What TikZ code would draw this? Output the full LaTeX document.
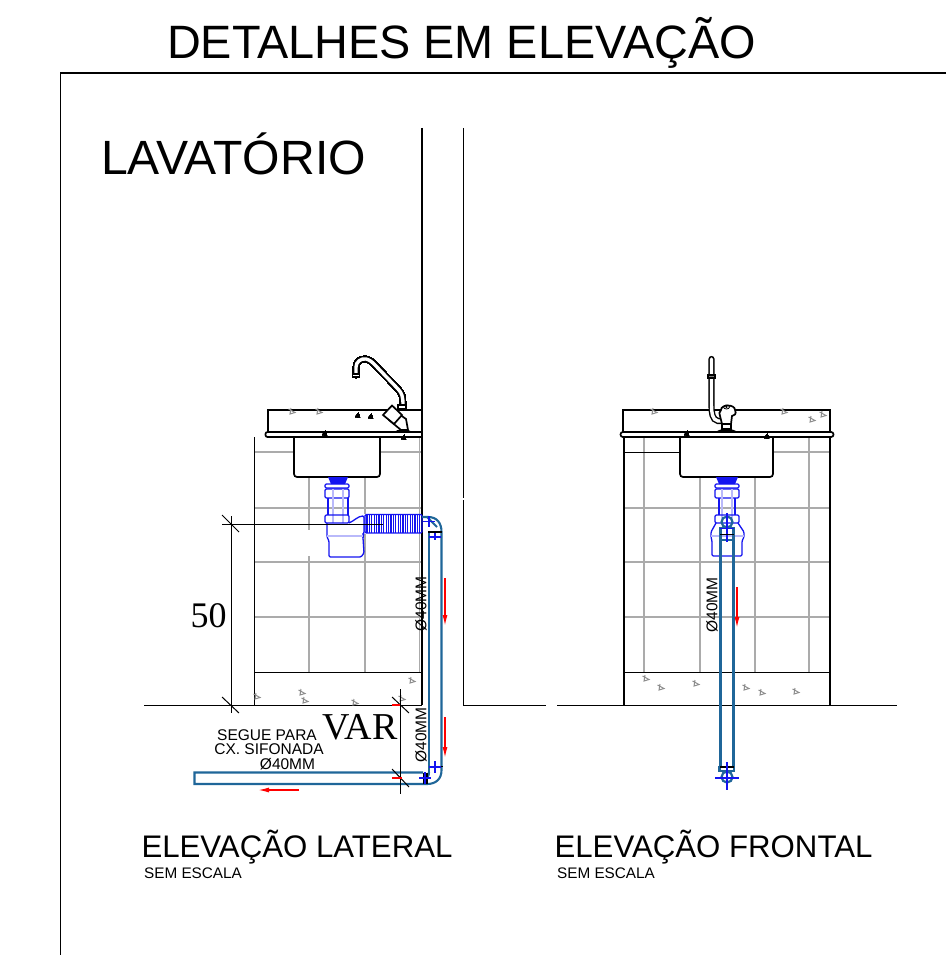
\documentclass[tikz,border=0pt]{standalone}
\usepackage{fontspec}
\setmainfont{Liberation Sans}
\newfontfamily\timesf{Liberation Serif}
\usetikzlibrary{arrows.meta}
\definecolor{pipeblue}{HTML}{1F6699}
\definecolor{sifblue}{HTML}{1414F0}
\definecolor{tilegray}{HTML}{ABABAB}
\definecolor{markgray}{HTML}{8C8C8C}
\newcommand{\trimark}[3][markgray]{\draw[#1,line width=1pt] (#2,#3) ++(-3.5,-3) -- ++(6.5,3.5) -- ++(-5,1.5) -- ++(1,-6);}
\newcommand{\blackmark}[2]{\fill[black] (#1,#2) ++(-3,2) -- ++(3.5,-4.5) -- ++(1.5,5) -- cycle;}
\tikzset{
  wall/.style={black,line width=1.3pt},
  thick line/.style={black,line width=1.7pt},
  tile/.style={tilegray,line width=1.4pt},
  pipe/.style={pipeblue,line width=2.1pt},
  sif/.style={sifblue,line width=1.3pt,rounded corners=1.2pt},
  redbit/.style={red,line width=1.4pt},
  redarrow/.style={red,line width=1.4pt,-{Latex[length=11pt,width=5pt]}},
  dimline/.style={black,line width=1pt},
  lbl/.style={inner sep=0pt,text=black,align=center},
  faucet/.style={black,line width=1.4pt,double=white,double distance=3.4pt,line cap=round}
}
\begin{document}
\begin{tikzpicture}[x=1pt,y=-1pt]
\useasboundingbox (0,0) rectangle (946,955);
\fill[white] (0,0) rectangle (946,955);
% frame
\draw[wall] (946,73) -- (60.5,73) -- (60.5,955);
\node[lbl,font=\fontsize{46.8}{47}\selectfont] (title) at (461.5,42.5) {DETALHES EM ELEVAÇÃO};
\node[lbl,font=\fontsize{48.1}{48}\selectfont] (lav) at (233.5,153.5) {LAVATÓRIO};
% tile grid lateral
\draw[tile] (309,477) -- (309,530) (309,556) -- (309,672);
\draw[tile] (365,477) -- (365,514) (365,534) -- (365,672);
\draw[tile,line width=1pt] (419,437) -- (419,672);
\draw[tile] (254,452) -- (294,452) (380,452) -- (422,452);
\draw[tile] (254,508) -- (422,508);
\draw[tile] (254,562) -- (422,562);
\draw[tile] (254,617) -- (422,617);
% tile grid front
\foreach \xx in {644,700,755,809} \draw[tile] (\xx,\ifnum\xx=700 477\else\ifnum\xx=755 477\else 437\fi\fi) -- (\xx,672);
\draw[tile] (773,452) -- (830,452);
\draw[tile] (624,508) -- (830,508);
\draw[tile] (624,562) -- (830,562);
\draw[tile] (624,617) -- (830,617);
% walls and floor
\draw[wall] (422,128) -- (422,705);
\draw[wall] (463.5,128) -- (463.5,498) (463.5,500) -- (463.5,705);
\draw[wall] (144,705.5) -- (422,705.5) (463,705.5) -- (546,705.5) (557,705.5) -- (897,705.5);
% cabinet lateral
\draw[thick line] (254.5,437) -- (254.5,705);
\draw[thick line] (254,672.5) -- (422,672.5);
\draw[thick line] (268,432) -- (268,410) -- (422,410);
\draw[thick line,rounded corners=2pt] (422,432) -- (265.5,432) -- (265.5,437) -- (422,437);
\draw[thick line,rounded corners=3pt] (294,437) -- (294,477) -- (380,477) -- (380,437);
% cabinet front
\draw[thick line] (624,437) -- (624,705) (830,437) -- (830,705);
\draw[thick line] (624,672.5) -- (830,672.5);
\draw[thick line] (623,432) -- (623,410) -- (830,410) -- (830,432);
\draw[thick line,rounded corners=2.4pt] (620.5,432) rectangle (833.5,437);
\draw[thick line,rounded corners=3pt] (680,437) -- (680,477) -- (773,477) -- (773,437);
\draw[thick line] (624,452.5) -- (680,452.5);
% marks
\foreach \a/\b in {292/412,319/412,302/693,305/701,412/681,257/697,402/699,355/703,
  654/412,784/412,812/420,823/415,646/679,661/688,696/684,746/688,762/693,796/692}
  \trimark{\a}{\b}
\foreach \a/\b in {358/415,371/416,325/433,404/437,687/433,767/436}
  \blackmark{\a}{\b}
% faucet lateral
\draw[faucet] (356,375) -- (356,367) .. controls (356,362) and (361,358) .. (366,359)
  .. controls (370,360) and (372,362) .. (375,365) -- (398,389) .. controls (402,393) and (403,397) .. (403,405);
\draw[thick line,fill=white] (352.5,374) rectangle (359.5,377);
\draw[thick line,fill=white] (398,405) rectangle (406,409);
\draw[thick line,fill=white] (392,409) -- (406,419) -- (408,430) -- (401,430) -- (389,420) -- cycle;
\draw[thick line,fill=white] (392,405.5) -- (383,415) -- (394,424) -- (402,415) -- cycle;
\fill[black] (394,432) .. controls (397,429) and (407,428) .. (412,432) -- cycle;
% faucet front
\draw[faucet] (711.5,359) -- (711.5,405) .. controls (711.5,412) and (712,420) .. (718,421) -- (722,421);
\draw[black,line width=1.2pt,fill=gray] (708,375) rectangle (715,378);
\draw[thick line,fill=white] (721,410) .. controls (721,404) and (735,404) .. (735,410) .. controls (737,414) and (734,416) .. (732,416)
  -- (731,424) -- (722,424) -- (720,416) .. controls (719,414) and (719,412) .. (721,410) -- cycle;
\draw[black,line width=.8pt] (726.5,407) ellipse (3 and 2);
\fill[black] (726.5,407) circle (1.1);
\fill[black] (716,432) .. controls (719,428) and (734,428) .. (737,432) -- cycle;
\draw[thick line,fill=white] (722,424) rectangle (731,429);
% siphon lateral
\begin{scope}[shift={(338,0)}]
\fill[sifblue] (-10,477) -- (10,477) -- (7,484) -- (-7,484) -- cycle;
\draw[sif] (-13,484) rectangle (11,488);
\draw[sif] (-13,489) rectangle (11,498);
\draw[sif] (-10,498) -- (-10,515) (10,498) -- (10,515);
\draw[sifblue!30,line width=1.2pt] (-5,489) -- (-5,523) (5,489) -- (5,523);
\draw[sif] (-13,515) rectangle (11,523);
\draw[sif] (-11,523) -- (-11,537) -- (-9,541) -- (-9,557) -- (23,557) -- (26,553) -- (25,538) -- (25,533);
\draw[sif] (11,523) .. controls (16,521) and (20,516) .. (26,516) -- (26,532) -- (25,538);
\draw[sifblue!30,line width=1.2pt] (-11,536) -- (25,536);
\end{scope}
\draw[sif] (365,514.5) rectangle (422,533);
\foreach \xx in {367,369.4,...,421} \draw[sifblue,line width=1.3pt] (\xx,514.5) -- (\xx,533);
% siphon front
\begin{scope}[shift={(727,0)}]
\fill[sifblue] (-11,477) -- (11,477) -- (8,484) -- (-8,484) -- cycle;
\draw[sif] (-12,484) rectangle (12,488);
\draw[sif] (-12,489) rectangle (12,498);
\draw[sif] (-8,498) -- (-8,515) (8,498) -- (8,515);
\draw[sifblue!30,line width=1.2pt] (-5,489) -- (-5,523) (5,489) -- (5,523);
\draw[sif] (-12,515) rectangle (12,523);
\draw[sif] (-11,523) -- (-16,532) -- (-16,537) -- (-15,541) -- (-15,556) -- (15,556) -- (15,541) -- (17,537) -- (17,532) -- (11,523);
\draw[sifblue!30,line width=1.2pt] (-16,536) -- (17,536);
\end{scope}
% pipes lateral
\draw[pipe] (422,517) -- (428,517) .. controls (437,517) and (441.5,523) .. (441.5,532) -- (441.5,770)
  .. controls (441.5,779) and (436,784) .. (427,784) -- (194.5,784) -- (194.5,772.5) -- (423,772.5);
\draw[pipe] (429,533) -- (429,772);
\draw[pipe] (429,772) .. controls (429,777) and (427,778) .. (423,778);
\draw[pipe] (427,517) -- (437,527);
\draw[black,line width=1.5pt] (428,532) -- (442,532) (424,772.5) -- (424,784) (427,772.5) -- (427,784) (429,766.5) -- (443,766.5);
\draw[sifblue,line width=1.5pt] (429,516) -- (429,527) (423,521.5) -- (435,521.5) (435,533) -- (435,540) (429,537) -- (441,537);
\draw[sifblue,line width=1.5pt] (435,761) -- (435,773) (429,767) -- (441,767) (419,778) -- (431,778) (425,772) -- (425,784);
% pipes front
\draw[pipe,line width=2.6pt] (720.5,536) -- (720.5,767) (733.5,536) -- (733.5,767);
\draw[pipe] (719.5,767) rectangle (734,771);
\draw[black,line width=1.5pt] (719.5,767) -- (734,767);
\draw[pipe,line width=2.2pt] (727,777) circle (5.5);
\draw[sifblue,line width=1.5pt] (727,762) -- (727,790) (715,778) -- (739,778);
\draw[pipe,line width=2.2pt] (727,522) circle (5.5);
\draw[pipe] (720.5,528) rectangle (733.5,540);
\draw[sifblue,line width=1.5pt] (727,513) -- (727,542);
\draw[black,line width=1.6pt] (720,534.5) -- (734,534.5);
\draw[sifblue,line width=1.4pt] (720,528.5) -- (734,528.5);
% dimensions
\draw[dimline] (231,516) -- (231,713);
\draw[dimline] (222,524) -- (383,524);
\draw[dimline] (222,515) -- (239,532) (222,697) -- (239,713);
\draw[dimline] (400,689) -- (400,794);
\draw[dimline] (392,697) -- (409,713) (392,769) -- (409,787);
% red
\draw[redbit] (392,705) -- (400,705) (392,778) -- (402,778);
\draw[redarrow] (445,578) -- (445,626);
\draw[redarrow] (445,717) -- (445,758);
\draw[redarrow] (737,587) -- (737,628);
\draw[redarrow] (299,790) -- (258,790);
% labels
\node[lbl,font=\timesf\fontsize{36}{36}\selectfont] (d50) at (208.5,616) {50};
\node[lbl,font=\timesf\fontsize{38}{38}\selectfont] (var) at (360,727) {VAR};
\node[lbl,font=\fontsize{15.5}{15.5}\selectfont] (s1) at (267,735) {SEGUE PARA};
\node[lbl,font=\fontsize{15.5}{15.5}\selectfont] (s2) at (269,749) {CX. SIFONADA};
\node[lbl,font=\fontsize{15.5}{15.5}\selectfont] (s3) at (287.5,764.5) {Ø40MM};
\node[lbl,rotate=90,font=\fontsize{15.5}{15.5}\selectfont] (r1) at (421,604) {Ø40MM};
\node[lbl,rotate=90,font=\fontsize{15.5}{15.5}\selectfont] (r2) at (421,735) {Ø40MM};
\node[lbl,rotate=90,font=\fontsize{15.5}{15.5}\selectfont] (r3) at (712,605) {Ø40MM};
\node[lbl,font=\fontsize{31.2}{31}\selectfont] (e1) at (297,847) {ELEVAÇÃO LATERAL};
\node[lbl,font=\fontsize{15.3}{15}\selectfont] (e1s) at (193,873) {SEM ESCALA};
\node[lbl,font=\fontsize{31.2}{31}\selectfont] (e2) at (713.5,847) {ELEVAÇÃO FRONTAL};
\node[lbl,font=\fontsize{15.3}{15}\selectfont] (e2s) at (606,873) {SEM ESCALA};
\end{tikzpicture}
\end{document}
